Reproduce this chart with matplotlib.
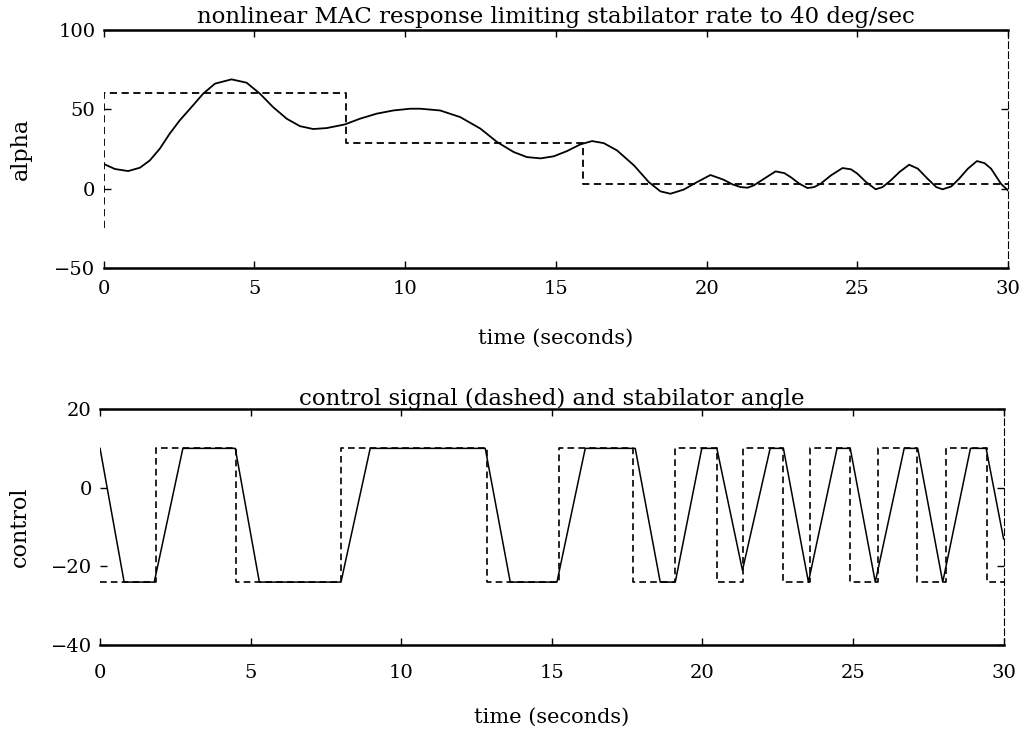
import matplotlib
matplotlib.use('Agg')
import matplotlib.pyplot as plt

plt.rcParams['font.family'] = ['DejaVu Serif']

# angle of attack response (deg) against time (s)
t_alpha = [0.0, 0.37, 0.81, 1.2, 1.53, 1.86, 2.19, 2.52, 2.91, 3.3, 3.69, 4.24, 4.74,
           5.18, 5.62, 6.07, 6.51, 6.95, 7.4, 8.0, 8.5, 9.06, 9.61, 10.17, 10.5, 11.16,
           11.83, 12.5, 13.05, 13.6, 14.04, 14.49, 14.93, 15.37, 15.81, 16.2, 16.59,
           17.03, 17.59, 18.08, 18.47, 18.8, 19.24, 19.69, 20.13, 20.57, 20.86, 21.13,
           21.36, 21.57, 21.91, 22.29, 22.58, 22.79, 23.08, 23.35, 23.57, 23.79, 24.13,
           24.51, 24.79, 25.0, 25.29, 25.61, 25.84, 26.11, 26.4, 26.72, 27.01, 27.33,
           27.62, 27.83, 28.12, 28.38, 28.67, 28.97, 29.22, 29.44, 29.77, 30.0]
alpha = [15.6, 12.4, 11.1, 13.2, 17.8, 25.2, 34.7, 43.0, 51.4, 59.9, 66.2, 68.9, 66.8,
         59.9, 51.4, 44.1, 39.4, 37.6, 38.2, 40.5, 44.1, 47.3, 49.3, 50.4, 50.4, 49.3,
         45.1, 37.8, 29.4, 23.1, 19.9, 19.1, 20.4, 23.7, 27.9, 30.0, 28.7,
         24.1, 14.7, 4.2, -1.7, -3.2, -0.6, 4.2, 8.6, 5.6, 2.7, 1.0,
         0.6, 2.1, 6.3, 10.9, 9.8, 7.3, 3.1, 0.4, 1.0, 3.2, 8.4,
         13.0, 12.2, 9.5, 4.2, -0.4, 1.0, 5.2, 10.5, 15.1, 12.6, 6.3,
         1.0, -0.4, 1.4, 6.3, 12.6, 17.4, 16.1, 12.6, 3.0, -1.1]

# commanded alpha (steps)
t_ref = [0, 0, 8.03, 8.03, 15.9, 15.9, 30]
ref = [-25, 60, 60, 29, 29, 3, 3]

# bang-bang control signal: switch times and the level held after each
t_ctl = [0, 1.85, 4.52, 7.99, 12.84, 15.24, 17.71, 19.1, 20.48, 21.36, 22.67,
         23.58, 24.91, 25.83, 27.13, 28.1, 29.45, 30]
u_ctl = [-24, 10, -24, 10, -24, 10, -24, 10, -24, 10, -24,
         10, -24, 10, -24, 10, -24, -24]

# rate limited stabilator angle, corner points
t_stab = [0, 0.8, 1.8, 2.75, 4.49, 5.29, 8.0, 8.97, 12.79, 13.62, 15.17, 16.11,
          17.77, 18.6, 19.1, 19.98, 20.48, 21.33, 22.25, 22.69, 23.52, 24.47,
          24.91, 25.74, 26.7, 27.15, 27.98, 28.9, 29.42, 30.0]
stab = [10, -24, -24, 10, 10, -24, -24, 10, 10, -24, -24, 10,
        10, -24, -24, 10, 10, -21, 10, 10, -24, 10,
        10, -24, 10, 10, -24, 10, 10, -13]

fig = plt.figure(figsize=(10.25, 7.29), dpi=100)
ax1 = fig.add_axes([0.1012, 0.6324, 0.8822, 0.3264])
ax2 = fig.add_axes([0.0976, 0.1152, 0.8815, 0.3237])

ax1.plot(t_alpha, alpha, color='black', lw=1.3)
ax1.plot(t_ref, ref, color='black', lw=1.3, linestyle=(0, (4, 2.5)))
ax1.set_ylim(-50, 100)
ax1.set_yticks([-50, 0, 50, 100])
ax1.set_ylabel('alpha', fontsize=16, labelpad=16)
ax1.set_title('nonlinear MAC response limiting stabilator rate to 40 deg/sec',
              fontsize=16.5, pad=5)
ax1.set_xlabel('time (seconds)', fontsize=15, labelpad=22)
ax1.tick_params(axis='x', pad=9)

ax2.step(t_ctl, u_ctl, where='post', color='black', lw=1.2, linestyle=(0, (4, 2.5)))
ax2.plot(t_stab, stab, color='black', lw=1.1)
ax2.set_ylim(-40, 20)
ax2.set_yticks([-40, -20, 0, 20])
ax2.set_ylabel('control', fontsize=16, labelpad=14)
ax2.set_title('control signal (dashed) and stabilator angle', fontsize=16.5, pad=3)
ax2.set_xlabel('time (seconds)', fontsize=15, labelpad=18)
ax2.tick_params(axis='x', pad=14)

for ax in (ax1, ax2):
    ax.set_xlim(0, 30)
    ax.set_xticks(range(0, 31, 5))
    ax.spines['left'].set_visible(False)
    ax.spines['right'].set_linewidth(0.8)
    ax.spines['right'].set_linestyle((0, (6, 3)))
    ax.spines['top'].set_linewidth(1.8)
    ax.spines['bottom'].set_linewidth(1.8)
    ax.tick_params(direction='in', length=5, width=1, top=True, right=True,
                   labelsize=14)
    ax.tick_params(axis='y', pad=6)

fig.savefig('out.png', dpi=100)
